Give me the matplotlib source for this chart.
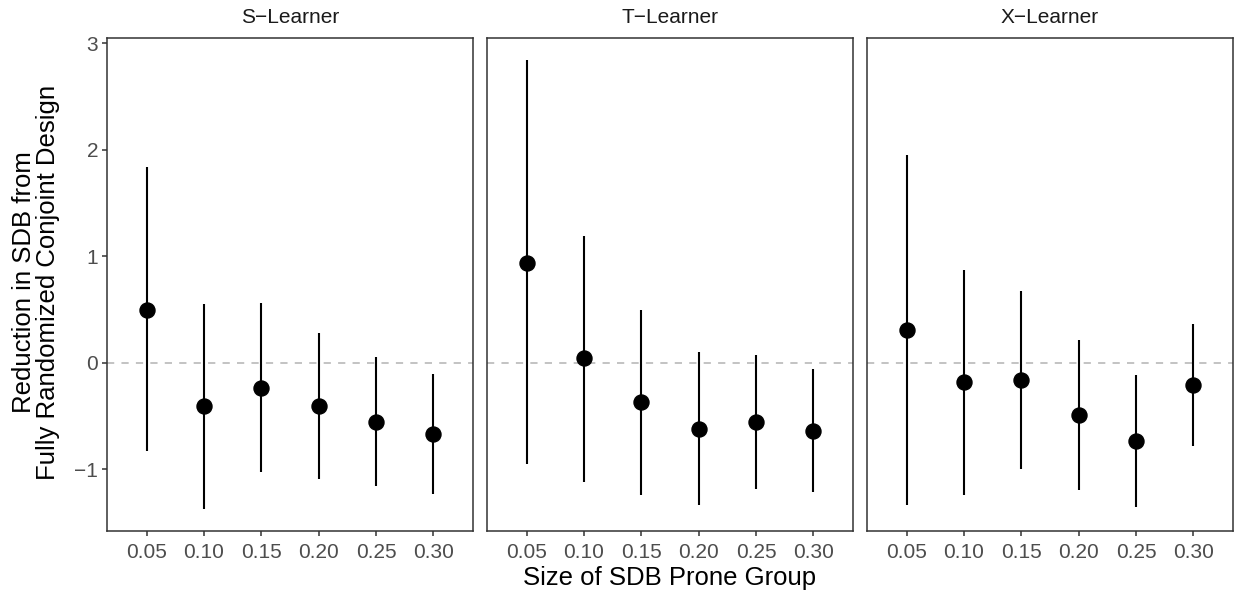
import matplotlib
matplotlib.use("Agg")
import matplotlib.pyplot as plt
import numpy as np

plt.rcParams['font.family'] = ['Liberation Sans', 'DejaVu Sans']

learners = ["S\u2212Learner", "T\u2212Learner", "X\u2212Learner"]
sizes = ["0.05", "0.10", "0.15", "0.20", "0.25", "0.30"]

s_est = [0.50, -0.41, -0.235, -0.405, -0.56, -0.67]
s_lo = [-0.83, -1.37, -1.03, -1.09, -1.16, -1.235]
s_hi = [1.84, 0.555, 0.56, 0.28, 0.05, -0.11]

t_est = [0.94, 0.04, -0.37, -0.62, -0.555, -0.64]
t_lo = [-0.95, -1.12, -1.24, -1.34, -1.19, -1.21]
t_hi = [2.84, 1.19, 0.50, 0.10, 0.075, -0.057]

x_est = [0.31, -0.185, -0.164, -0.495, -0.737, -0.21]
x_lo = [-1.34, -1.24, -1.00, -1.20, -1.356, -0.78]
x_hi = [1.95, 0.87, 0.67, 0.217, -0.114, 0.36]

panels = [(s_est, s_lo, s_hi), (t_est, t_lo, t_hi), (x_est, x_lo, x_hi)]

W, H = 1236, 595
fig = plt.figure(figsize=(W / 100, H / 100), dpi=100)

lefts = [107, 487, 867]
pw = 366
top, bottom = 38, 531

all_lo = min(min(p[1]) for p in panels)
all_hi = max(max(p[2]) for p in panels)
rng = all_hi - all_lo
ylim = (all_lo - 0.05 * rng, all_hi + 0.05 * rng)

border = "#333333"
ticklab = "#4D4D4D"

for i, (est, lo, hi) in enumerate(panels):
    ax = fig.add_axes([lefts[i] / W, (H - bottom) / H, pw / W, (bottom - top) / H])
    xs = np.arange(len(sizes))
    ax.axhline(0, color="#BEBEBE", lw=1.3, ls=(0, (4, 4)), zorder=1)
    ax.vlines(xs, lo, hi, color="black", lw=1.5, zorder=2)
    ax.plot(xs, est, "o", color="black", ms=10.8, zorder=3)
    ax.set_xlim(-0.69, len(sizes) - 1 + 0.69)
    ax.set_ylim(*ylim)
    ax.set_xticks(xs)
    ax.set_xticklabels(sizes)
    ax.set_yticks([-1, 0, 1, 2, 3])
    for sp in ax.spines.values():
        sp.set_color(border)
        sp.set_linewidth(1.1)
    ax.tick_params(axis="both", length=3.8, width=1.1, color=border,
                   labelcolor=ticklab, labelsize=15, pad=2.5)
    ax.tick_params(axis="x", pad=4.5)
    if i > 0:
        ax.tick_params(axis="y", left=False, labelleft=False)
    ax.set_title(learners[i], fontsize=15, color="#1A1A1A", pad=10.5)

fig.text((lefts[0] + lefts[2] + pw) / 2 / W, 1 - 578 / H, "Size of SDB Prone Group",
         ha="center", va="center", fontsize=18.5, color="black")
fig.text(36 / W, 1 - 282 / H, "Reduction in SDB from\nFully Randomized Conjoint Design",
         ha="center", va="center", rotation=90, fontsize=18.5, color="black",
         linespacing=1.0)

fig.savefig("out.png", dpi=100)
